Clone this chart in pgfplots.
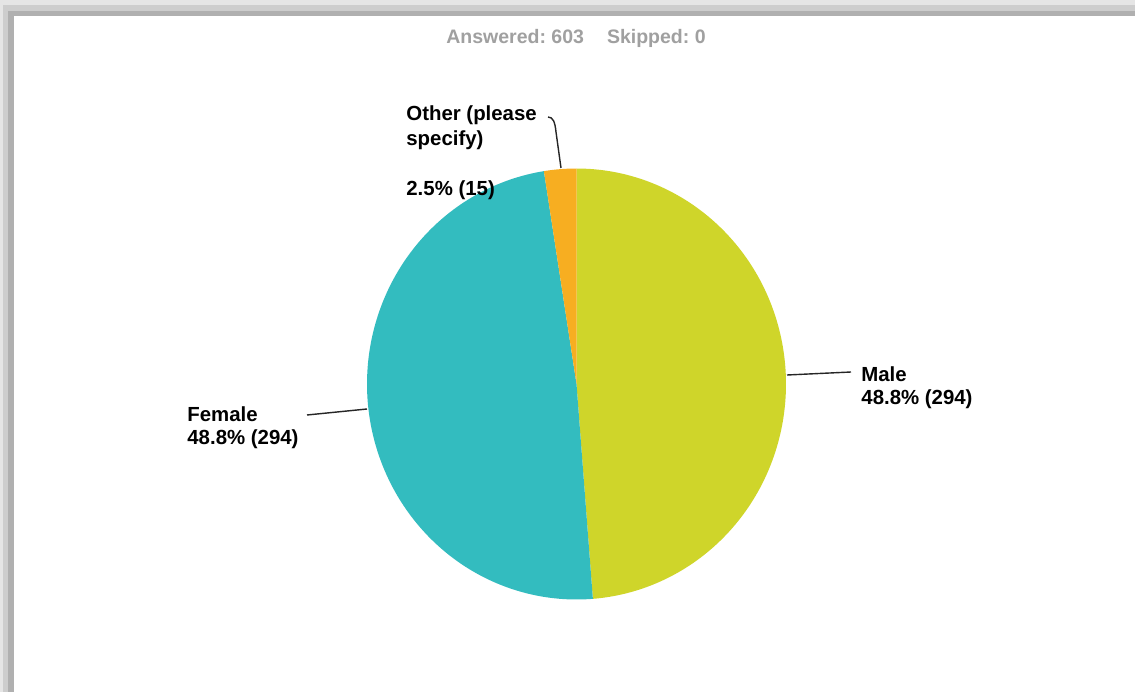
\documentclass[border=0pt]{standalone}
\usepackage{pgfplots}
\pgfplotsset{compat=1.18}
\usepackage{pgfplotstable}
\usepackage{fontspec}
\setmainfont{Liberation Sans}
\frenchspacing
\definecolor{male}{RGB}{207,213,42}
\definecolor{female}{RGB}{51,188,191}
\definecolor{other}{RGB}{247,174,33}
\definecolor{titlegray}{RGB}{160,160,160}
\definecolor{bandA}{RGB}{229,229,229}
\definecolor{bandB}{RGB}{205,205,205}
\definecolor{bandC}{RGB}{176,176,176}
\pgfplotstableread{
label value
Male 294
Female 294
Other 15
}\piedata
\newcommand\lbl{\fontsize{10.2pt}{12pt}\selectfont\bfseries\frenchspacing}
\begin{document}
\begin{tikzpicture}
\pgfplotstablegetelem{0}{value}\of\piedata \pgfmathsetmacro{\vA}{\pgfplotsretval}
\pgfplotstablegetelem{1}{value}\of\piedata \pgfmathsetmacro{\vB}{\pgfplotsretval}
\pgfplotstablegetelem{2}{value}\of\piedata \pgfmathsetmacro{\vC}{\pgfplotsretval}
\pgfmathsetmacro{\tot}{\vA+\vB+\vC}
\pgfmathsetmacro{\aA}{360*(\vA/\tot)}
\pgfmathsetmacro{\aB}{360*((\vA+\vB)/\tot)}
\begin{axis}[scale only axis, width=567.5pt, height=346pt,
  xmin=0, xmax=1135, ymin=0, ymax=692, hide axis, clip=false]
% frame with shadow
\fill[bandA] (axis cs:0,0) rectangle (axis cs:1135,692);
\fill[bandB] (axis cs:2.7,0) rectangle (axis cs:1135,686.7);
\fill[bandC] (axis cs:8.3,0) rectangle (axis cs:1135,681.3);
\fill[white] (axis cs:13.5,0) rectangle (axis cs:1135,676.3);
% pie slices
\addplot[draw=none, fill=male, domain=0:\aA, samples=150, variable=\t]
  ({576.5+209.5*sin(\t)},{308+215.5*cos(\t)}) -- (axis cs:576.5,308) -- cycle;
\addplot[draw=none, fill=female, domain=\aA:\aB, samples=150, variable=\t]
  ({576.5+209.5*sin(\t)},{308+215.5*cos(\t)}) -- (axis cs:576.5,308) -- cycle;
\addplot[draw=none, fill=other, domain=\aB:360, samples=30, variable=\t]
  ({576.5+209.5*sin(\t)},{308+215.5*cos(\t)}) -- (axis cs:576.5,308) -- cycle;
% title
\node[anchor=base, text=titlegray, font=\fontsize{9.75pt}{12pt}\selectfont\bfseries\frenchspacing, inner sep=0pt]
  at (axis cs:576,648) {Answered: 603\hspace{11.5pt}Skipped: 0};
% leader lines
\draw[black!85, line width=0.7pt] (axis cs:787,317) -- (axis cs:851,320);
\draw[black!85, line width=0.7pt] (axis cs:307,277) -- (axis cs:367,283);
\draw[black!85, line width=0.7pt] (axis cs:548,575) .. controls (axis cs:553,575) and (axis cs:555,570) .. (axis cs:556,560) -- (axis cs:561,524);
% labels
\node[anchor=base west, inner sep=0pt, font=\lbl] at (axis cs:861,311) {Male};
\node[anchor=base west, inner sep=0pt, font=\lbl] at (axis cs:861,288) {48.8\% (294)};
\node[anchor=base west, inner sep=0pt, font=\lbl] at (axis cs:187,270.5) {Female};
\node[anchor=base west, inner sep=0pt, font=\lbl] at (axis cs:187,248) {48.8\% (294)};
\node[anchor=base west, inner sep=0pt, font=\lbl] at (axis cs:406,571) {Other (please};
\node[anchor=base west, inner sep=0pt, font=\lbl] at (axis cs:406,546) {specify)};
\node[anchor=base west, inner sep=0pt, font=\lbl] at (axis cs:406,496) {2.5\% (15)};
\end{axis}
\end{tikzpicture}
\end{document}
